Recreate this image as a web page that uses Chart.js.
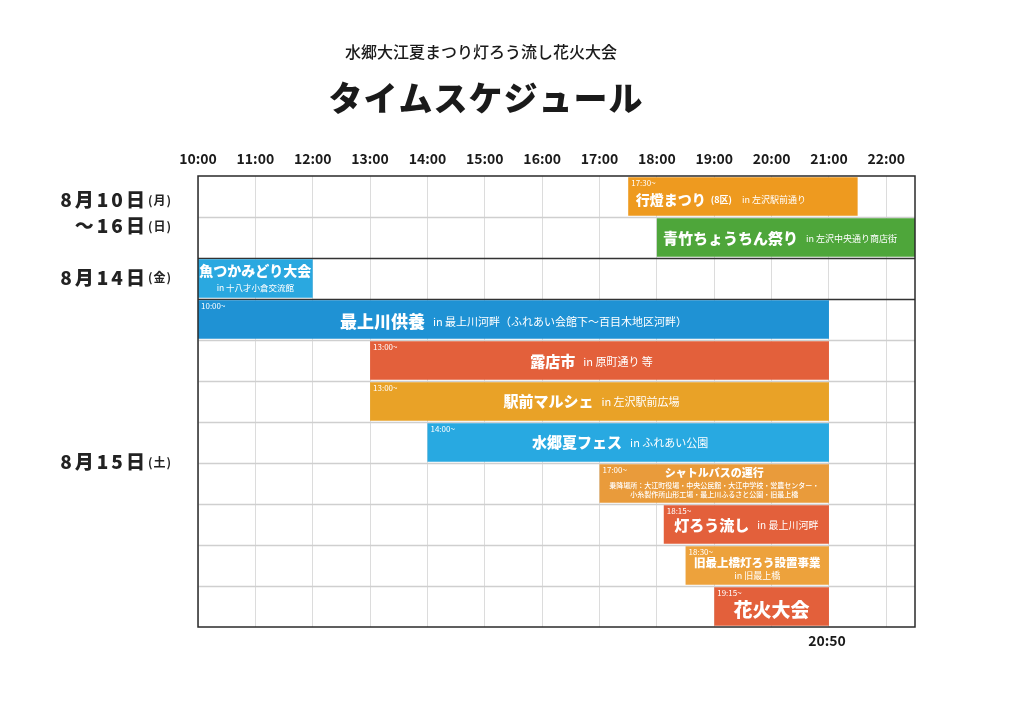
<!DOCTYPE html>
<html><head><meta charset="utf-8">
<script src="https://cdn.jsdelivr.net/npm/chart.js@4.4.1/dist/chart.umd.min.js"></script>
<style>html,body{margin:0;padding:0;background:#fff}#wrap{width:1024px;height:724px;position:relative}</style>
</head><body><div id="wrap"><canvas id="c"></canvas></div>
<script>
// ---- data ----
const mainTitle = 'タイムスケジュール';
const subTitle = '水郷大江夏まつり灯ろう流し花火大会';
const events = ['行燈まつり','青竹ちょうちん祭り','魚つかみどり大会','最上川供養','露店市','駅前マルシェ','水郷夏フェス','シャトルバスの運行','灯ろう流し','旧最上橋灯ろう設置事業','花火大会'];
const startTimes = [17.5, 18, 10, 10, 13, 13, 14, 17, 18.12, 18.5, 19.0];
const endTimes   = [21.5, 22.5, 12, 21, 21, 21, 21, 21, 21, 21, 21];
const startLabels = ['17:30~','','','10:00~','13:00~','13:00~','14:00~','17:00~','18:15~','18:30~','19:15~'];
const notes = ['(8区)','','','','','','','','','',''];
const places = ['in 左沢駅前通り','in 左沢中央通り商店街','in 十八才小倉交流館','in 最上川河畔（ふれあい会館下〜百目木地区河畔）','in 原町通り 等','in 左沢駅前広場','in ふれあい公園','乗降場所：大江町役場・中央公民館・大江中学校・営農センター・\n小糸製作所山形工場・最上川ふるさと公園・旧最上橋','in 最上川河畔','in 旧最上橋',''];
const barColors = ['#ee9a1f','#4ea63a','#2aa8e0','#1f92d4','#e3603b','#e9a227','#28a9e1','#e99b3b','#e3603b','#eda23c','#e3603b'];
const tickLabels = ['10:00','11:00','12:00','13:00','14:00','15:00','16:00','17:00','18:00','19:00','20:00','21:00','22:00'];
const dateLabels = ['8月10日(月)\n〜16日(日)','8月14日(金)','8月15日(土)'];
const dateRowStart = [0, 2, 3];
const dateRowEnd = [1, 2, 10];
const endNote = '20:50';
const endNoteTime = 21;

// ---- styles ----
const F = "'Noto Sans CJK JP','Noto Sans',sans-serif";
const rowStyle = [
  {kind:'inline', t:14, s:9,  dy:3, dx:-22},
  {kind:'inline', t:15, s:9,  dy:1, dx:-6},
  {kind:'stack',  t:14, s:8.5, dy1:-8, dy2:9},
  {kind:'inline', t:17, s:11, dy:2, dx:0},
  {kind:'inline', t:15, s:11, dy:1, dx:-8},
  {kind:'inline', t:15, s:11, dy:0, dx:-8},
  {kind:'inline', t:15, s:11, dy:0, dx:-8},
  {kind:'shuttle', t:11, s:7, dy1:-11, dy2:2, dy3:11},
  {kind:'inline', t:15, s:10, dy:1, dx:0},
  {kind:'stack',  t:11.5, s:9, dy1:-3, dy2:10},
  {kind:'inline', t:19, s:10, dy:3, dx:0}
];

const labels = events;
const dataPairs = startTimes.map((s,i)=>[s, endTimes[i]]);

const PLOT_L = 198, PLOT_R = 915, PLOT_T = 176, PLOT_B = 627;

const decor = {
  id:'decor',
  beforeDatasetsDraw(chart){
    const ctx = chart.ctx, ca = chart.chartArea;
    const n = labels.length;
    const rh = (ca.bottom - ca.top)/n;
    ctx.save();
    for(let i=1;i<n;i++){
      const y = Math.round(ca.top + rh*i)+0.5;
      const dark = (i===2 || i===3);
      ctx.strokeStyle = dark ? '#333' : '#cfcfcf';
      ctx.lineWidth = 1.5;
      ctx.beginPath(); ctx.moveTo(ca.left, y); ctx.lineTo(ca.right, y); ctx.stroke();
    }
    ctx.restore();
  },
  afterDatasetsDraw(chart){
    const ctx = chart.ctx, meta = chart.getDatasetMeta(0);
    ctx.save();
    ctx.fillStyle = '#fff';
    meta.data.forEach((bar,i)=>{
      const p = bar.getProps(['x','y','base','height'], true);
      const L = Math.min(p.x,p.base), R = Math.max(p.x,p.base);
      const top = p.y - p.height/2;
      const cx = (L+R)/2, cy = p.y;
      const st = rowStyle[i];
      if(startLabels[i]){
        ctx.font = `400 8px ${F}`; ctx.textAlign='left'; ctx.textBaseline='top';
        ctx.fillText(startLabels[i], L+3, top+2);
      }
      if(st.kind==='inline'){
        const parts = [{t:events[i], f:`900 ${st.t}px ${F}`, g:0}];
        if(notes[i]) parts.push({t:notes[i], f:`700 ${st.s}px ${F}`, g:5});
        if(places[i]) parts.push({t:places[i], f:`400 ${st.s}px ${F}`, g:notes[i]?10:8});
        let w=0; parts.forEach(pt=>{ctx.font=pt.f; pt.w=ctx.measureText(pt.t).width; w+=pt.w+pt.g;});
        let x = cx - w/2 + (st.dx||0);
        ctx.textAlign='left'; ctx.textBaseline='middle';
        parts.forEach(pt=>{x+=pt.g; ctx.font=pt.f; ctx.fillText(pt.t, x, cy+st.dy); x+=pt.w;});
      } else if(st.kind==='stack'){
        ctx.textAlign='center'; ctx.textBaseline='middle';
        ctx.font=`900 ${st.t}px ${F}`; ctx.fillText(events[i], cx, cy+st.dy1);
        ctx.font=`400 ${st.s}px ${F}`; ctx.fillText(places[i], cx, cy+st.dy2);
      } else if(st.kind==='shuttle'){
        ctx.textAlign='center'; ctx.textBaseline='middle';
        ctx.font=`900 ${st.t}px ${F}`; ctx.fillText(events[i], cx, cy+st.dy1);
        const lines = places[i].split('\n');
        ctx.font=`500 ${st.s}px ${F}`;
        ctx.fillText(lines[0], cx, cy+st.dy2);
        ctx.fillText(lines[1], cx, cy+st.dy3);
      }
    });
    ctx.restore();
  },
  afterDraw(chart){
    const ctx = chart.ctx, ca = chart.chartArea, xs = chart.scales.x;
    const n = labels.length, rh = (ca.bottom-ca.top)/n;
    ctx.save();
    ctx.strokeStyle='#2a2a2a'; ctx.lineWidth=1.5;
    ctx.strokeRect(ca.left, ca.top, ca.right-ca.left, ca.bottom-ca.top);
    ctx.fillStyle='#1a1a1a'; ctx.textAlign='center'; ctx.textBaseline='middle';
    ctx.font=`500 16px ${F}`; ctx.fillText(subTitle, 481, 52);
    ctx.font=`900 34px ${F}`; ctx.letterSpacing='1px'; ctx.fillText(mainTitle, 486, 98);
    ctx.letterSpacing='0px';
    ctx.textAlign='right'; ctx.fillStyle='#222';
    dateLabels.forEach((lab,k)=>{
      const y0 = ca.top + rh*dateRowStart[k], y1 = ca.top + rh*(dateRowEnd[k]+1);
      const lines = lab.split('\n');
      const mid = (y0+y1)/2;
      lines.forEach((ln,j)=>{
        const y = lines.length===1 ? mid - 1 : mid + (j===0 ? -17 : 9);
        const m = ln.match(/^(.*?)(\(.\))$/);
        ctx.font=`700 12px ${F}`;
        ctx.letterSpacing='1px';
        const wSmall = ctx.measureText(m[2]).width;
        ctx.fillText(m[2], 172, y);
        ctx.font=`900 19px ${F}`;
        ctx.letterSpacing='3px';
        ctx.fillText(m[1], 172 - wSmall, y);
      });
    });
    ctx.letterSpacing='0px';
    ctx.textAlign='center'; ctx.fillStyle='#1a1a1a';
    ctx.font=`700 14px ${F}`;
    ctx.fillText(endNote, xs.getPixelForValue(endNoteTime) - 2, 641);
    ctx.restore();
  }
};

new Chart(document.getElementById('c'), {
  type:'bar',
  data:{ labels, datasets:[{ data:dataPairs, backgroundColor:barColors, borderWidth:0, borderSkipped:false, barPercentage:1, categoryPercentage:0.94 }] },
  options:{
    indexAxis:'y', responsive:true, maintainAspectRatio:false, animation:false,
    layout:{ padding:{ left:PLOT_L, right:1024-PLOT_R, top:150, bottom:724-PLOT_B } },
    plugins:{ legend:{display:false}, tooltip:{enabled:false} },
    scales:{
      x:{ type:'linear', position:'top', min:10, max:22.5,
          border:{display:false},
          grid:{ color:'#dcdcdc', lineWidth:1, drawTicks:false },
          ticks:{ stepSize:1, includeBounds:false, padding:9, color:'#1a1a1a', font:{family:F, size:14, weight:'700'},
                  maxRotation:0, autoSkip:false,
                  callback:(v)=> Number.isInteger(v) ? tickLabels[v-10] : '' },
          afterFit:(s)=>{ s.height = PLOT_T - 150; } },
      y:{ display:false }
    }
  },
  plugins:[decor]
});
</script></body></html>
